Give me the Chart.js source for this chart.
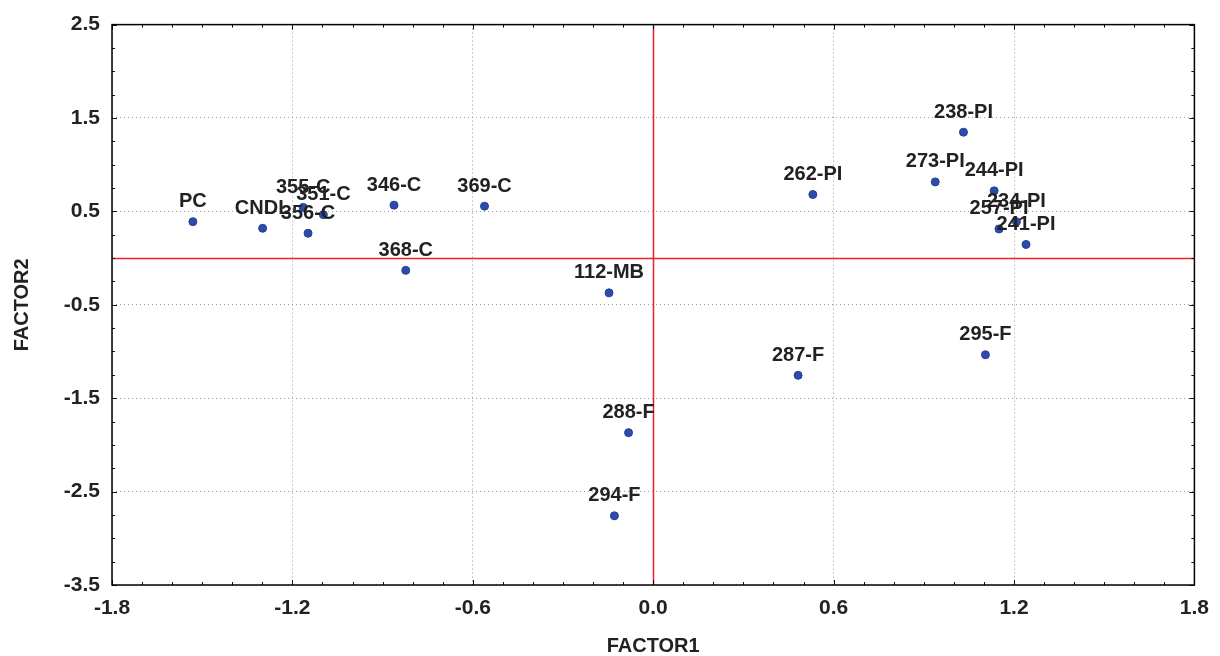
<!DOCTYPE html>
<html>
<head>
<meta charset="utf-8">
<script src="https://cdn.jsdelivr.net/npm/chart.js@4/dist/chart.umd.min.js"></script>
<style>
  html, body { margin: 0; padding: 0; background: #fff; }
  #wrap { width: 1220px; height: 656px; position: relative; }
</style>
</head>
<body>
<div id="wrap"><canvas id="chart"></canvas></div>
<script>
// sample names and factor scores
const names = ['PC', 'CNDL', '355-C', '351-C', '356-C', '346-C', '369-C', '368-C',
    '112-MB', '288-F', '294-F', '262-PI', '287-F', '238-PI', '273-PI', '244-PI',
    '234-PI', '257-PI', '241-PI', '295-F'];
const factor1 = [-1.531, -1.299, -1.164, -1.097, -1.148, -0.862, -0.561, -0.823,
    -0.147, -0.082, -0.129, 0.531, 0.482, 1.032, 0.938, 1.134,
    1.208, 1.150, 1.240, 1.105];
const factor2 = [0.390, 0.319, 0.543, 0.465, 0.266, 0.567, 0.556, -0.131,
    -0.372, -1.869, -2.759, 0.681, -1.255, 1.348, 0.816, 0.720,
    0.390, 0.312, 0.146, -1.035];

const xTicks = [-1.8, -1.2, -0.6, 0.0, 0.6, 1.2, 1.8];
const yTicks = [-3.5, -2.5, -1.5, -0.5, 0.5, 1.5, 2.5];

const TEXT = '#222';
const FONT = 'Liberation Sans, Arial, sans-serif';

// frame, zero lines, minor ticks and point labels
const decor = {
    id: 'decor',
    beforeDatasetsDraw(chart) {
        const { ctx, chartArea: a, scales: { x, y } } = chart;
        ctx.save();
        ctx.strokeStyle = '#e8232b';
        ctx.lineWidth = 1.5;
        const x0 = Math.round(x.getPixelForValue(0)) + 0.5;
        const y0 = Math.round(y.getPixelForValue(0)) + 0.5;
        ctx.beginPath();
        ctx.moveTo(x0, a.top); ctx.lineTo(x0, a.bottom);
        ctx.moveTo(a.left, y0); ctx.lineTo(a.right, y0);
        ctx.stroke();

        // minor / major ticks pointing inward
        ctx.strokeStyle = '#111';
        ctx.lineWidth = 1;
        ctx.beginPath();
        for (let k = 0; k <= 36; k++) {
            const px = Math.round(x.getPixelForValue(x.min + k * 0.1)) + 0.5;
            const len = k % 6 === 0 ? 5 : 3;
            ctx.moveTo(px, a.bottom); ctx.lineTo(px, a.bottom - len);
            ctx.moveTo(px, a.top); ctx.lineTo(px, a.top + len);
        }
        for (let k = 0; k <= 24; k++) {
            const py = Math.round(y.getPixelForValue(y.min + k * 0.25)) + 0.5;
            const len = k % 4 === 0 ? 5 : 3;
            ctx.moveTo(a.left, py); ctx.lineTo(a.left + len, py);
            ctx.moveTo(a.right, py); ctx.lineTo(a.right - len, py);
        }
        ctx.stroke();

        ctx.strokeStyle = '#000';
        ctx.lineWidth = 1.5;
        ctx.strokeRect(a.left, a.top, a.right - a.left, a.bottom - a.top);
        ctx.restore();
    },
    afterDatasetsDraw(chart) {
        const { ctx } = chart;
        const meta = chart.getDatasetMeta(0);
        ctx.save();
        ctx.fillStyle = TEXT;
        ctx.font = 'bold 20px ' + FONT;
        ctx.textAlign = 'center';
        ctx.textBaseline = 'middle';
        meta.data.forEach((pt, i) => {
            ctx.fillText(names[i], pt.x, pt.y - 20);
        });
        ctx.restore();
    }
};

new Chart(document.getElementById('chart'), {
    type: 'scatter',
    data: {
        datasets: [{
            data: factor1.map((v, i) => ({ x: v, y: factor2[i] })),
            backgroundColor: '#2d4ba8',
            borderColor: '#23409a',
            borderWidth: 1,
            pointRadius: 4,
            pointHoverRadius: 4
        }]
    },
    options: {
        responsive: true,
        maintainAspectRatio: false,
        animation: false,
        layout: { autoPadding: false, padding: { top: 21, right: 23, left: 0, bottom: 0 } },
        plugins: { legend: { display: false }, tooltip: { enabled: false } },
        scales: {
            x: {
                type: 'linear',
                min: -1.8, max: 1.8,
                afterBuildTicks: s => { s.ticks = xTicks.map(v => ({ value: v })); },
                afterFit: s => { s.height = 71; },
                grid: { color: '#9a9a9a', lineWidth: 1, drawTicks: false },
                border: { display: false, dash: [1, 3] },
                ticks: {
                    padding: 11,
                    color: TEXT,
                    font: { family: FONT, size: 21, weight: 'bold' },
                    callback: v => v.toFixed(1),
                    maxRotation: 0
                },
                title: {
                    display: true, text: 'FACTOR1', color: TEXT,
                    font: { family: FONT, size: 20, weight: 'bold', lineHeight: 1 },
                    padding: { top: 0, bottom: 0 }
                }
            },
            y: {
                type: 'linear',
                min: -3.5, max: 2.5,
                afterBuildTicks: s => { s.ticks = yTicks.map(v => ({ value: v })); },
                afterFit: s => { s.width = 112; },
                grid: { color: '#9a9a9a', lineWidth: 1, drawTicks: false },
                border: { display: false, dash: [1, 3] },
                ticks: {
                    padding: 12,
                    color: TEXT,
                    font: { family: FONT, size: 21, weight: 'bold' },
                    callback: v => v.toFixed(1)
                },
                title: {
                    display: true, text: 'FACTOR2', color: TEXT,
                    font: { family: FONT, size: 20, weight: 'bold', lineHeight: 1 },
                    padding: { top: 12, bottom: 0 }
                }
            }
        }
    },
    plugins: [decor]
});
</script>
</body>
</html>
